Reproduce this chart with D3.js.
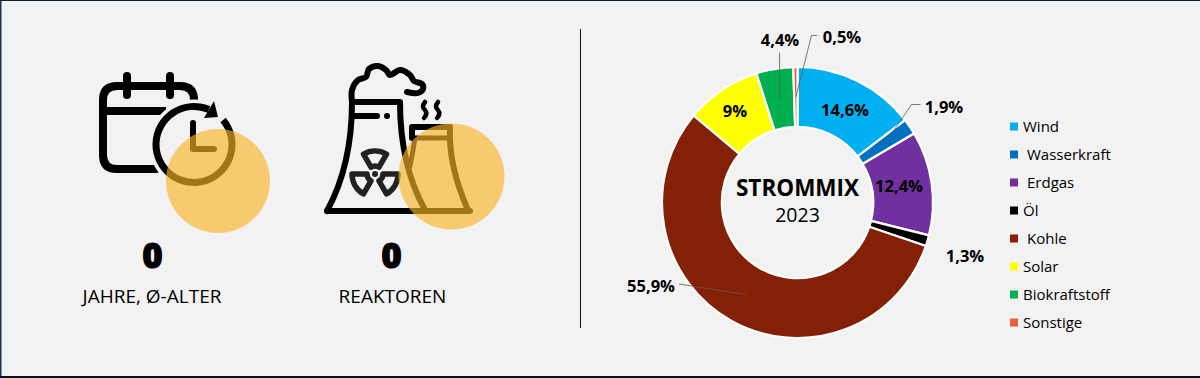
<!DOCTYPE html>
<html>
<head>
<meta charset="utf-8">
<script src="https://cdn.jsdelivr.net/npm/d3@7"></script>
<style>
  html, body { margin: 0; padding: 0; background: #f2f2f2; }
  svg { display: block; }
  text { font-family: "Open Sans", "Noto Sans", sans-serif; fill: #000; }
</style>
</head>
<body>
<div id="chart"></div>
<script>
const categories = ["Wind", "Wasserkraft", "Erdgas", "Öl", "Kohle", "Solar", "Biokraftstoff", "Sonstige"];
const shares = [14.6, 1.9, 12.4, 1.3, 55.9, 9, 4.4, 0.5];
const share_labels = ["14,6%", "1,9%", "12,4%", "1,3%", "55,9%", "9%", "4,4%", "0,5%"];
const colors = ["#00b0f0", "#0070c0", "#7030a0", "#000000", "#842005", "#ffff00", "#00b050", "#e8603c"];
const stats = [
  {value: "0", label: "JAHRE, Ø-ALTER"},
  {value: "0", label: "REAKTOREN"}
];

const width = 1200, height = 378;
const cx = 797.5, cy = 202.5;
const outer = 135.5, inner = 75.7;
const halo = "rgb(250,180,40)";

const svg = d3.select("#chart").append("svg")
  .attr("width", width)
  .attr("height", height);

// frame
svg.append("rect").attr("width", width).attr("height", height).attr("fill", "#f2f2f2");
svg.append("rect").attr("x", 0).attr("y", 0).attr("width", 1.5).attr("height", height).attr("fill", "#1c3048");
svg.append("rect").attr("x", 0).attr("y", 0).attr("width", width).attr("height", 1).attr("fill", "#10202f");
svg.append("rect").attr("x", 0).attr("y", 376).attr("width", width).attr("height", 2).attr("fill", "#081018");

// left stats
const stat_x = [152.5, 391.5];
const label_x = [152, 392.5];
stats.forEach(function(d, i) {
  svg.append("text")
    .attr("x", stat_x[i]).attr("y", 268)
    .attr("text-anchor", "middle")
    .attr("font-size", 35).attr("font-weight", 800)
    .style("stroke", "#000").style("stroke-width", 1)
    .text(d.value);
  svg.append("text")
    .attr("x", label_x[i]).attr("y", 303)
    .attr("text-anchor", "middle")
    .attr("font-size", 19).attr("font-weight", 400)
    .text(d.label);
});

// divider
svg.append("line")
  .attr("x1", 580.5).attr("x2", 580.5).attr("y1", 29).attr("y2", 328)
  .attr("stroke", "#111").attr("stroke-width", 1);

// calendar icon
const cal = svg.append("g").attr("fill", "none").attr("stroke", "#000").attr("stroke-width", 8).attr("stroke-linecap", "round");
cal.append("path").attr("d", "M156,169H117Q103,169 103,155V100Q103,86 117,86H180Q194,86 194,100V104");
cal.append("path").attr("d", "M103,111H166").attr("stroke-linecap", "butt");
cal.append("path").attr("d", "M127,76V95M170,76V95");
// the clock cuts a gap out of the calendar
svg.append("circle").attr("cx", 194).attr("cy", 144.5).attr("r", 45).attr("fill", "#f2f2f2");
svg.append("path")
  .attr("transform", "translate(194,144.5)")
  .attr("d", d3.arc()({innerRadius: 34.5, outerRadius: 41.5, startAngle: 0.87, endAngle: 2 * Math.PI + 0.4}))
  .attr("fill", "#000");
svg.append("path").attr("d", "M214,101L218,117L204,118Z").attr("fill", "#000");
svg.append("path").attr("d", "M193,123V149H214").attr("fill", "none").attr("stroke", "#000").attr("stroke-width", 6).attr("stroke-linecap", "round").attr("stroke-linejoin", "round");
svg.append("circle").attr("cx", 218).attr("cy", 181).attr("r", 52).attr("fill", halo).attr("fill-opacity", 0.65);

// reactor icon
const cloud = [[352, 102], [352, 90], [358, 80], [366, 77], [369, 69], [378, 66], [386, 70], [390, 75], [400, 70], [410, 75], [414, 81], [422, 84], [423, 89], [418, 93], [407, 92]];
const re = svg.append("g").attr("fill", "none").attr("stroke", "#000").attr("stroke-width", 6).attr("stroke-linecap", "round").attr("stroke-linejoin", "round");
re.append("path").attr("d", "M327,211H470");
re.append("path").attr("d", "M327,211Q352,165 352,102H400Q400,165 425,210");
re.append("path").attr("d", "M355,116H377");
re.append("path").attr("d", d3.line().curve(d3.curveCatmullRom)(cloud));
re.append("path").attr("d", "M425,102Q421,107 425,110Q428,114 424,118M438,102Q434,107 438,110Q441,114 437,118").attr("stroke-width", 4.5);
re.append("path").attr("d", "M412,138V127H450Q448,165 468,210");
re.append("path").attr("d", "M417,138H448").attr("stroke-width", 5);
re.append("path").attr("d", "M415,138Q413,152 410,166").attr("stroke-width", 5);
svg.append("circle").attr("cx", 387).attr("cy", 116).attr("r", 3).attr("fill", "#000");
[0, 120, 240].forEach(function(a) {
  const t = a * Math.PI / 180, w = Math.PI / 6;
  svg.append("path")
    .attr("transform", "translate(375,174)")
    .attr("d", d3.arc()({innerRadius: 8, outerRadius: 23, startAngle: t - w, endAngle: t + w}))
    .attr("fill", "none").attr("stroke", "#222").attr("stroke-width", 5.5).attr("stroke-linejoin", "round");
});
svg.append("circle").attr("cx", 375).attr("cy", 174).attr("r", 3).attr("fill", "#222");
svg.append("circle").attr("cx", 451.5).attr("cy", 176.5).attr("r", 53).attr("fill", halo).attr("fill-opacity", 0.65);

// donut
const pie = d3.pie().sort(null).value(function(d) { return d; });
const arc = d3.arc().innerRadius(inner).outerRadius(outer);
const arcs = pie(shares);
const donut = svg.append("g").attr("transform", "translate(" + cx + "," + cy + ")");

donut.selectAll(".slice")
  .data(arcs)
  .enter().append("path")
  .attr("class", "slice")
  .attr("d", arc)
  .attr("fill", function(d, i) { return colors[i]; })
  .attr("stroke", "#fff")
  .attr("stroke-width", 2.2);

// leader lines run from the label to the slice centroid
const leaders = {
  1: [[123, -98], [114, -98]],
  4: [[-118.5, 81.5]],
  6: [[-18, -150]],
  7: [[19.5, -167], [14, -167]]
};
const line = d3.line();
Object.keys(leaders).forEach(function(k) {
  donut.append("path")
    .attr("d", line(leaders[k].concat([arc.centroid(arcs[k])])))
    .attr("fill", "none")
    .attr("stroke", "#595959")
    .attr("stroke-width", 0.8);
});

const label_pos = [[845, 110], [944, 107], [899, 186], [965, 256], [651, 286], [735, 111], [780, 40], [842, 37]];
svg.selectAll(".share")
  .data(share_labels)
  .enter().append("text")
  .attr("class", "share")
  .attr("x", function(d, i) { return label_pos[i][0]; })
  .attr("y", function(d, i) { return label_pos[i][1]; })
  .attr("dy", "0.35em")
  .attr("text-anchor", "middle")
  .attr("font-size", 16.5)
  .attr("font-weight", 700)
  .text(function(d) { return d; });

svg.append("text").attr("x", 797.5).attr("y", 196).attr("text-anchor", "middle")
  .attr("font-size", 22.5).attr("font-weight", 700).text("STROMMIX");
svg.append("text").attr("x", 797.5).attr("y", 222).attr("text-anchor", "middle")
  .attr("font-size", 19.5).attr("font-weight", 400).text("2023");

// legend, three entries sit a bit further right in the original
const legend_y = d3.scalePoint().domain(categories).range([127, 323]);
const legend_shift = {"Wasserkraft": 4, "Erdgas": 4, "Kohle": 4};
const legend = svg.selectAll(".legend")
  .data(categories)
  .enter().append("g")
  .attr("class", "legend")
  .attr("transform", function(d) { return "translate(1010," + legend_y(d) + ")"; });
legend.append("rect")
  .attr("y", -4.5).attr("width", 8).attr("height", 8)
  .attr("fill", function(d, i) { return colors[i]; });
legend.append("text")
  .attr("x", function(d) { return 13 + (legend_shift[d] || 0); })
  .attr("dy", "0.35em")
  .attr("font-size", 15)
  .text(function(d) { return d; });
</script>
</body>
</html>
